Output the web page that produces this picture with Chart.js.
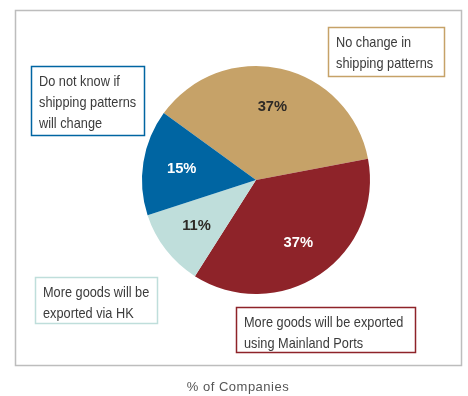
<!DOCTYPE html>
<html>
<head>
<meta charset="utf-8">
<script src="https://cdn.jsdelivr.net/npm/chart.js@4.4.1/dist/chart.umd.min.js"></script>
<style>
  html, body { margin: 0; padding: 0; background: #fff; }
  #wrap { width: 468px; height: 396px; }
</style>
</head>
<body>
<div id="wrap"><canvas id="grafico" width="468" height="396"></canvas></div>
<script>
// Categorias e valores (% de empresas)
const categorias = [
  ['No change in', 'shipping patterns'],
  ['More goods will be exported', 'using Mainland Ports'],
  ['More goods will be', 'exported via HK'],
  ['Do not know if', 'shipping patterns', 'will change']
];
const valores = [37, 37, 11, 15];
const cores = ['#c6a268', '#8e2329', '#bfdedb', '#0065a2'];
const corRotuloPct = ['#2e2a26', '#ffffff', '#2e2a26', '#ffffff'];
const tituloEixo = '% of Companies';

// Posição das caixas de legenda (x, y, largura, altura), na mesma ordem das categorias
const caixas = [
  { x: 328, y: 27, w: 116, h: 49 },
  { x: 236, y: 307, w: 179, h: 45 },
  { x: 35, y: 277, w: 122, h: 46 },
  { x: 31, y: 66, w: 113, h: 69 }
];

const fonteTexto = '"Liberation Sans", Arial, sans-serif';
const estreitar = 0.85; // fator horizontal para imitar a fonte condensada

// Plugin que desenha a moldura, as caixas de legenda, os percentuais e o título inferior
const enfeites = {
  id: 'enfeites',
  beforeDraw(chart) {
    const ctx = chart.ctx;
    ctx.save();
    ctx.strokeStyle = '#bdbdbd';
    ctx.lineWidth = 1.5;
    ctx.strokeRect(15.5, 10.5, 446, 355);
    ctx.restore();
  },
  afterDraw(chart) {
    const ctx = chart.ctx;
    const meta = chart.getDatasetMeta(0);
    ctx.save();

    // Percentuais dentro das fatias
    ctx.font = 'bold 15.5px ' + fonteTexto;
    ctx.textAlign = 'center';
    ctx.textBaseline = 'middle';
    meta.data.forEach((arco, i) => {
      const meio = (arco.startAngle + arco.endAngle) / 2;
      const r = arco.outerRadius * 0.66;
      const px = arco.x + Math.cos(meio) * r;
      const py = arco.y + Math.sin(meio) * r;
      ctx.fillStyle = corRotuloPct[i];
      ctx.save();
      ctx.translate(px, py);
      ctx.scale(0.95, 1);
      ctx.fillText(valores[i] + '%', 0, 0);
      ctx.restore();
    });

    // Caixas com o texto de cada categoria
    ctx.textAlign = 'left';
    ctx.textBaseline = 'alphabetic';
    ctx.font = '15px ' + fonteTexto;
    categorias.forEach((linhas, i) => {
      const c = caixas[i];
      ctx.fillStyle = '#ffffff';
      ctx.fillRect(c.x, c.y, c.w, c.h);
      ctx.strokeStyle = cores[i];
      ctx.lineWidth = 1.5;
      ctx.strokeRect(c.x + 0.5, c.y + 0.5, c.w, c.h);
      ctx.fillStyle = '#3b3b3b';
      linhas.forEach((t, j) => {
        ctx.save();
        ctx.translate(c.x + 8, c.y + 20 + j * 21);
        ctx.scale(estreitar, 1);
        ctx.fillText(t, 0, 0);
        ctx.restore();
      });
    });

    // Título abaixo da moldura
    ctx.font = '13px ' + fonteTexto;
    ctx.fillStyle = '#555555';
    ctx.textAlign = 'center';
    ctx.letterSpacing = '0.5px';
    ctx.fillText(tituloEixo, 238, 391);
    ctx.restore();
  }
};

new Chart(document.getElementById('grafico'), {
  type: 'pie',
  data: {
    labels: categorias.map(l => l.join(' ')),
    datasets: [{
      data: valores,
      backgroundColor: cores,
      borderWidth: 0
    }]
  },
  options: {
    responsive: false,
    animation: false,
    rotation: -54,
    layout: { padding: { left: 142, right: 98, top: 66, bottom: 102 } },
    plugins: {
      legend: { display: false },
      tooltip: { enabled: false }
    }
  },
  plugins: [enfeites]
});
</script>
</body>
</html>
